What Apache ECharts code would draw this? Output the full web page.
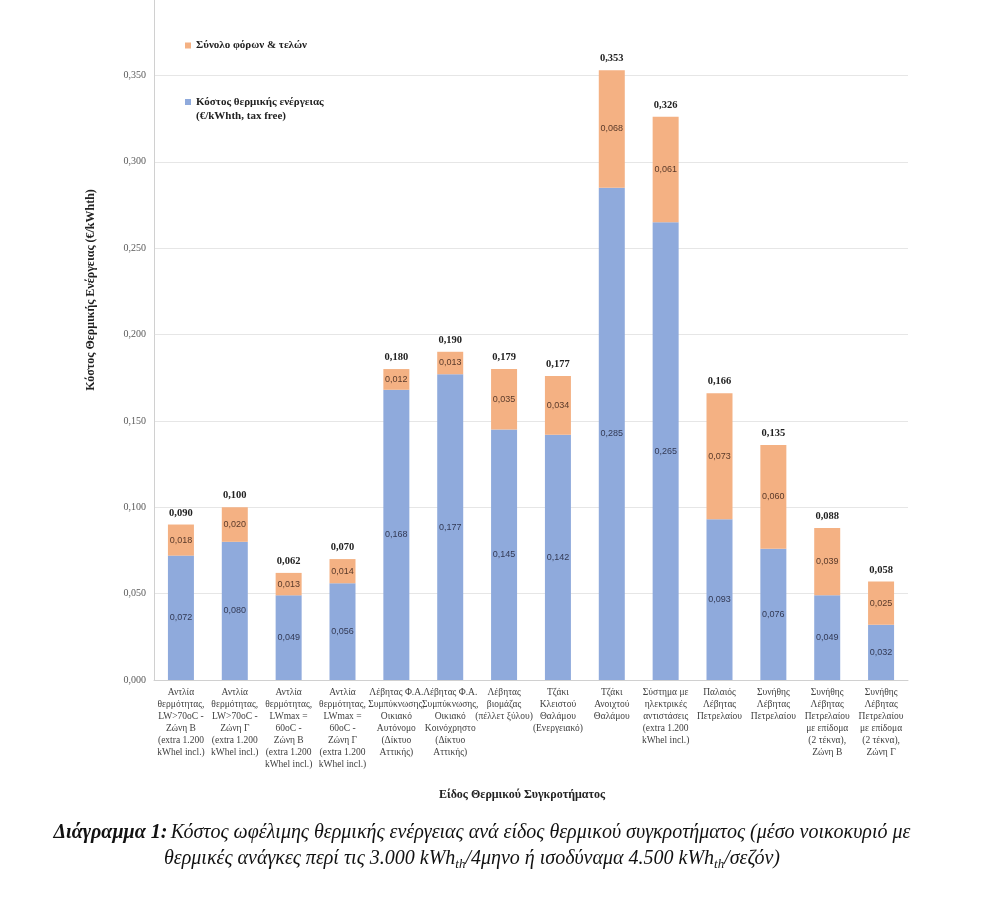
<!DOCTYPE html>
<html>
<head>
<meta charset="utf-8">
<script src="https://cdn.jsdelivr.net/npm/echarts@6/dist/echarts.min.js"></script>
<style>
  html, body { margin: 0; padding: 0; background: #fff; overflow: hidden; }
  #chart { position: absolute; left: 0; top: -11px; width: 990px; height: 925px; }
</style>
</head>
<body>
<div id="chart"></div>
<script>
const categories = [
  "Αντλία\nθερμότητας,\nLW>70oC -\nΖώνη Β\n(extra 1.200\nkWhel incl.)",
  "Αντλία\nθερμότητας,\nLW>70oC -\nΖώνη Γ\n(extra 1.200\nkWhel incl.)",
  "Αντλία\nθερμότητας,\nLWmax =\n60oC -\nΖώνη Β\n(extra 1.200\nkWhel incl.)",
  "Αντλία\nθερμότητας,\nLWmax =\n60oC -\nΖώνη Γ\n(extra 1.200\nkWhel incl.)",
  "Λέβητας Φ.Α.\nΣυμπύκνωσης,\nΟικιακό\nΑυτόνομο\n(Δίκτυο\nΑττικής)",
  "Λέβητας Φ.Α.\nΣυμπύκνωσης,\nΟικιακό\nΚοινόχρηστο\n(Δίκτυο\nΑττικής)",
  "Λέβητας\nβιομάζας\n(πέλλετ ξύλου)",
  "Τζάκι\nΚλειστού\nΘαλάμου\n(Ενεργειακό)",
  "Τζάκι\nΑνοιχτού\nΘαλάμου",
  "Σύστημα με\nηλεκτρικές\nαντιστάσεις\n(extra 1.200\nkWhel incl.)",
  "Παλαιός\nΛέβητας\nΠετρελαίου",
  "Συνήθης\nΛέβητας\nΠετρελαίου",
  "Συνήθης\nΛέβητας\nΠετρελαίου\nμε επίδομα\n(2 τέκνα),\nΖώνη Β",
  "Συνήθης\nΛέβητας\nΠετρελαίου\nμε επίδομα\n(2 τέκνα),\nΖώνη Γ"
];
const energyCost = [0.072, 0.080, 0.049, 0.056, 0.168, 0.177, 0.145, 0.142, 0.285, 0.265, 0.093, 0.076, 0.049, 0.032];
const taxes = [0.018, 0.020, 0.013, 0.014, 0.012, 0.013, 0.035, 0.034, 0.068, 0.061, 0.073, 0.060, 0.039, 0.025];
const totals = [0.090, 0.100, 0.062, 0.070, 0.180, 0.190, 0.179, 0.177, 0.353, 0.326, 0.166, 0.135, 0.088, 0.058];

const taxName = "Σύνολο φόρων & τελών";
const costName = "Κόστος θερμικής ενέργειας\n(€/kWhth, tax free)";

const serif = "'Liberation Serif', 'DejaVu Serif', serif";
const fmt = v => v.toFixed(3).replace(".", ",");

// the page is shifted up by 11px so the 0,400 line falls just above the picture
const chart = echarts.init(document.getElementById("chart"));
const option = {
  backgroundColor: "#fff",
  animation: false,
  grid: { left: 154, right: 82, top: 0, bottom: 234 },
  legend: [
    {
      left: 180, top: 46, itemWidth: 6, itemHeight: 6, icon: "rect",
      data: [taxName],
      textStyle: { fontFamily: serif, fontWeight: "bold", fontSize: 11, color: "#222" }
    },
    {
      // icon drawn in the upper part so it sits next to the first text line
      left: 180, top: 101, itemWidth: 6, itemHeight: 20, symbolKeepAspect: false,
      icon: "path://M0,0H6V6H0Z M0,19.95H0.05V20H0Z",
      data: [costName],
      textStyle: { fontFamily: serif, fontWeight: "bold", fontSize: 11, color: "#222", lineHeight: 14 }
    }
  ],
  xAxis: {
    type: "category",
    data: categories,
    axisLine: { lineStyle: { color: "#d0d0d0" } },
    axisTick: { show: false },
    axisLabel: {
      interval: 0, margin: 6, fontFamily: serif, fontSize: 9.5, lineHeight: 12,
      color: "#404040", verticalAlign: "top"
    }
  },
  yAxis: {
    type: "value",
    min: 0, max: 0.4, interval: 0.05,
    axisLine: { show: true, lineStyle: { color: "#d0d0d0" } },
    axisTick: { show: false },
    splitLine: { lineStyle: { color: "#e6e6e6" } },
    axisLabel: {
      formatter: fmt, fontFamily: serif, fontSize: 10, color: "#595959", margin: 8,
      showMaxLabel: false
    }
  },
  series: [
    {
      name: costName, type: "bar", stack: "cost", barWidth: 26,
      data: energyCost,
      itemStyle: { color: "#8faadc" },
      label: { show: true, position: "inside", formatter: p => fmt(p.value), fontSize: 9, color: "#333a55", fontFamily: "'Liberation Sans', sans-serif" }
    },
    {
      name: taxName, type: "bar", stack: "cost", barWidth: 26,
      data: taxes,
      itemStyle: { color: "#f4b183" },
      label: { show: true, position: "inside", formatter: p => fmt(p.value), fontSize: 9, color: "#5a3a2a", fontFamily: "'Liberation Sans', sans-serif" }
    },
    {
      name: "total", type: "bar", stack: "cost", barWidth: 26,
      data: totals.map(() => 0),
      itemStyle: { color: "transparent" },
      label: {
        show: true, position: "top", distance: 6,
        formatter: p => fmt(totals[p.dataIndex]),
        fontSize: 10.5, fontWeight: "bold", color: "#222", fontFamily: serif
      }
    }
  ],
  graphic: [
    {
      type: "text", x: 91, y: 301, rotation: Math.PI / 2,
      style: {
        text: "Κόστος Θερμικής Ενέργειας (€/kWhth)", font: "bold 12px " + serif,
        fill: "#222", align: "center", verticalAlign: "middle"
      }
    },
    {
      type: "text", x: 522, y: 806,
      style: {
        text: "Είδος Θερμικού Συγκροτήματος", font: "bold 12px " + serif,
        fill: "#222", align: "center", verticalAlign: "middle"
      }
    },
    {
      type: "text", x: 482, y: 844,
      style: {
        text: "{b|Διάγραμμα 1:} {n|Κόστος ωφέλιμης θερμικής ενέργειας ανά είδος θερμικού συγκροτήματος (μέσο νοικοκυριό με}",
        align: "center", verticalAlign: "middle",
        rich: {
          b: { fontFamily: serif, fontSize: 20, fontWeight: "bold", fontStyle: "italic", fill: "#111" },
          n: { fontFamily: serif, fontSize: 20, fontStyle: "italic", fill: "#111" }
        }
      }
    },
    {
      type: "text", x: 472, y: 870,
      style: {
        text: "{n|θερμικές ανάγκες περί τις 3.000 kWh}{s|th}{n|/4μηνο ή ισοδύναμα 4.500 kWh}{s|th}{n|/σεζόν)}",
        align: "center", verticalAlign: "middle",
        rich: {
          n: { fontFamily: serif, fontSize: 20, fontStyle: "italic", fill: "#111", lineHeight: 24 },
          s: { fontFamily: serif, fontSize: 13, fontStyle: "italic", fill: "#111", lineHeight: 24, verticalAlign: "bottom", padding: [9, 0, 0, 0] }
        }
      }
    }
  ]
};
chart.setOption(option);
</script>
</body>
</html>
